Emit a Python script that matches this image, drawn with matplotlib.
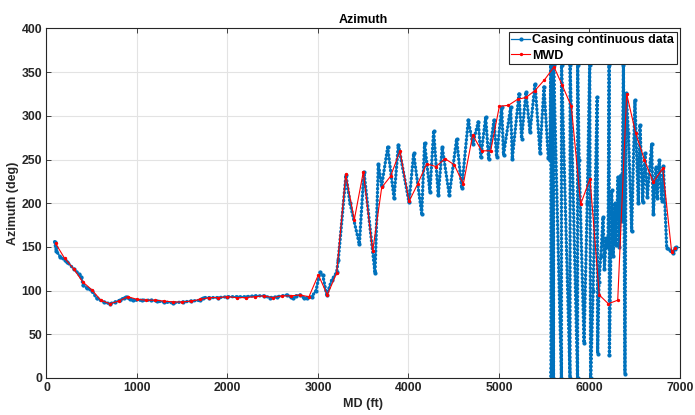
import numpy as np
import matplotlib
matplotlib.use("Agg")
import matplotlib.pyplot as plt
import matplotlib.ticker as mticker

plt.rcParams['font.family'] = ['Liberation Sans', 'DejaVu Sans']
plt.rcParams['font.weight'] = 'bold'

# casing azimuth log (turning points of the continuous trace)
casing_md = [
    90, 100, 110, 150, 200, 225, 300, 360, 385, 405, 445, 500, 555, 630, 700,
    760, 812, 860, 893, 920, 960, 1050, 1150, 1218, 1300, 1400, 1512, 1600,
    1700, 1733, 1800, 1900, 2000, 2100, 2200, 2300, 2400, 2470, 2550, 2655,
    2700, 2727, 2760, 2801, 2840, 2875, 2930, 2978, 3022, 3052, 3096, 3151,
    3206, 3224, 3309, 3354, 3457, 3508, 3630, 3667, 3704, 3770, 3840, 3888,
    4006, 4057, 4146, 4178, 4237, 4278, 4329, 4373, 4451, 4532, 4588, 4661,
    4710, 4771, 4800, 4853, 4885, 4945, 4974, 5030, 5050, 5129, 5147, 5221,
    5250, 5298, 5343, 5398, 5453, 5497, 5545, 5562, 5573, 5575, 5582, 5588,
    5590, 5602, 5604, 5690, 5691, 5785, 5786, 5868, 5869, 5885, 5940, 5975,
    6002, 6013, 6040, 6085, 6090, 6105, 6125, 6150, 6165, 6185, 6205, 6217,
    6220, 6245, 6262, 6280, 6295, 6315, 6330, 6345, 6358, 6375, 6392, 6405,
    6430, 6466, 6502, 6539, 6558, 6588, 6613, 6639, 6687, 6705, 6735, 6749,
    6771, 6798, 6816, 6853, 6890, 6919, 6940, 6956,
]
casing_az = [
    156, 150, 145, 139, 135, 133, 125, 119, 116, 106, 103, 100, 91, 87, 85,
    87, 89, 92, 93, 90, 89, 89, 89, 88, 87, 86, 87, 88,
    89, 92, 92, 92, 93, 93, 93, 94, 94, 92, 93, 95,
    93, 91, 94, 95, 92, 92, 93, 100, 121, 118, 95, 112,
    121, 135, 232, 200, 153, 236, 120, 245, 220, 264, 206, 267,
    201, 257, 188, 269, 213, 283, 209, 264, 209, 274, 217, 295,
    268, 293, 253, 299, 251, 295, 253, 310, 255, 310, 251, 325,
    274, 327, 281, 337, 258, 333, 252, 249, 358, 2, 18, 3,
    358, 0, 358, 0, 358, 0, 358, 0, 358, 250, 40, 200,
    358, 0, 100, 321, 28, 110, 140, 184, 125, 160, 150, 358,
    26, 215, 140, 200, 152, 230, 150, 232, 180, 358, 5, 326,
    280, 168, 318, 200, 290, 201, 257, 207, 268, 188, 241, 206,
    249, 203, 243, 149, 146, 143, 148, 150,
]

# MWD survey stations
mwd_md = [
    100, 200, 300, 400, 500, 600, 700, 800, 900, 1000, 1100, 1200, 1300,
    1400, 1500, 1600, 1700, 1800, 1900, 2000, 2100, 2200, 2300, 2400, 2500,
    2600, 2700, 2800, 2900, 3004, 3103, 3206, 3306, 3401, 3501, 3604, 3704,
    3803, 3906, 4006, 4101, 4201, 4304, 4403, 4506, 4606, 4709, 4809, 4908,
    5004, 5103, 5207, 5298, 5398, 5501, 5608, 5699, 5799, 5903, 6006, 6108,
    6208, 6312, 6411, 6511, 6606, 6705, 6809, 6908, 6950,
]
mwd_az = [
    154, 137, 125, 110, 101, 89, 85, 88, 93, 90, 89, 89, 88,
    87, 87, 88, 90, 92, 92, 93, 92, 92, 93, 94, 92,
    94, 94, 95, 93, 118, 95, 120, 233, 181, 236, 145, 218,
    231, 260, 202, 222, 245, 242, 251, 244, 222, 278, 260, 260,
    311, 312, 319, 321, 329, 341, 356, 335, 311, 199, 228, 95,
    85, 89, 325, 280, 250, 224, 240, 144, 149,
]

blue = '#0072BD'
dark = '#262626'

fig = plt.figure(figsize=(6.95, 4.15), dpi=100)
ax = fig.add_axes((0.0669, 0.0892, 0.9115, 0.8422))

# beaded overlay gives the look of the densely sampled log
ax.plot(casing_md, casing_az, color=blue, lw=2.4, dashes=(0.12, 1.05),
        dash_capstyle='round', zorder=2)
ax.plot(casing_md, casing_az, '.-', color=blue, lw=0.9, ms=4,
        label='Casing continuous data', zorder=2)
ax.plot(mwd_md, mwd_az, '.-', color='red', lw=0.8, ms=2.8,
        label='MWD', zorder=3)

ax.set_xlim(0, 7000)
ax.set_ylim(0, 400)
ax.xaxis.set_major_locator(mticker.MultipleLocator(1000))
ax.yaxis.set_major_locator(mticker.MultipleLocator(50))
ax.grid(True, color='#e3e3e3', lw=0.8)
ax.set_axisbelow(True)
ax.tick_params(direction='in', top=True, right=True, length=3.5,
               width=0.6, colors=dark, labelsize=8.8, pad=3)
for sp in ax.spines.values():
    sp.set_color(dark)
    sp.set_linewidth(0.8)

ax.set_title('Azimuth', fontsize=9, fontweight='bold', color='black', pad=4)
ax.set_xlabel('MD (ft)', fontsize=9, fontweight='bold', color=dark, labelpad=3)
ax.set_ylabel('Azimuth (deg)', fontsize=9, fontweight='bold', color=dark,
              labelpad=2)

leg = ax.legend(loc='upper right', fontsize=9, frameon=True, fancybox=False,
                framealpha=1, edgecolor=dark, borderaxespad=0.25,
                handlelength=1.5, handletextpad=0.2, borderpad=0.2,
                labelspacing=0.3)
leg.get_frame().set_linewidth(0.8)
for t in leg.get_texts():
    t.set_fontweight('bold')

fig.savefig('out.png', dpi=100)
